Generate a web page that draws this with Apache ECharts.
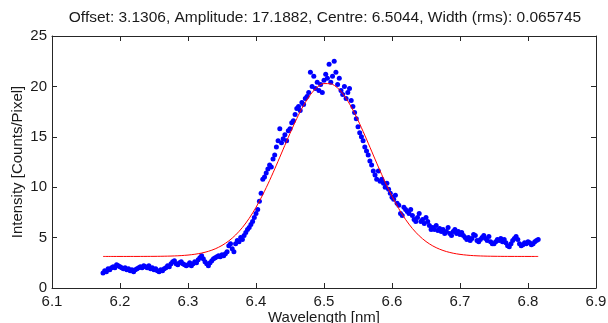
<!DOCTYPE html>
<html>
<head>
<meta charset="utf-8">
<script src="https://cdn.jsdelivr.net/npm/echarts@6/dist/echarts.min.js"></script>
<style>
html,body{margin:0;padding:0;background:#fff;}
#chart{width:608px;height:323px;}
</style>
</head>
<body>
<div id="chart"></div>
<script>
const titleText = 'Offset: 3.1306, Amplitude: 17.1882, Centre: 6.5044, Width (rms): 0.065745';
const xTicks = [6.1, 6.2, 6.3, 6.4, 6.5, 6.6, 6.7, 6.8, 6.9];
const yTicks = [0, 5, 10, 15, 20, 25];

const wavelengths = [
6.1750,6.1775,6.1800,6.1825,6.1850,6.1875,6.1900,6.1925,6.1950,6.1975,
6.2000,6.2025,6.2050,6.2075,6.2100,6.2125,6.2150,6.2175,6.2200,6.2225,
6.2250,6.2275,6.2300,6.2325,6.2350,6.2375,6.2400,6.2425,6.2450,6.2475,
6.2500,6.2525,6.2550,6.2575,6.2600,6.2625,6.2650,6.2675,6.2700,6.2725,
6.2750,6.2775,6.2800,6.2825,6.2850,6.2875,6.2900,6.2925,6.2950,6.2975,
6.3000,6.3025,6.3050,6.3075,6.3100,6.3125,6.3150,6.3175,6.3200,6.3225,
6.3250,6.3275,6.3300,6.3325,6.3350,6.3375,6.3400,6.3425,6.3450,6.3475,
6.3500,6.3525,6.3550,6.3575,6.3600,6.3625,6.3650,6.3675,6.3700,6.3725,
6.3750,6.3775,6.3800,6.3825,6.3850,6.3875,6.3900,6.3925,6.3950,6.3975,
6.4000,6.4025,6.4050,6.4075,6.4100,6.4125,6.4150,6.4175,6.4200,6.4225,
6.4250,6.4275,6.4300,6.4325,6.4350,6.4375,6.4400,6.4425,6.4450,6.4475,
6.4500,6.4525,6.4550,6.4575,6.4600,6.4625,6.4650,6.4675,6.4700,6.4725,
6.4750,6.4775,6.4800,6.4825,6.4850,6.4875,6.4900,6.4925,6.4950,6.4975,
6.5000,6.5025,6.5050,6.5075,6.5100,6.5125,6.5150,6.5175,6.5200,6.5225,
6.5250,6.5275,6.5300,6.5325,6.5350,6.5375,6.5400,6.5425,6.5450,6.5475,
6.5500,6.5525,6.5550,6.5575,6.5600,6.5625,6.5650,6.5675,6.5700,6.5725,
6.5750,6.5775,6.5800,6.5825,6.5850,6.5875,6.5900,6.5925,6.5950,6.5975,
6.6000,6.6025,6.6050,6.6075,6.6100,6.6125,6.6150,6.6175,6.6200,6.6225,
6.6250,6.6275,6.6300,6.6325,6.6350,6.6375,6.6400,6.6425,6.6450,6.6475,
6.6500,6.6525,6.6550,6.6575,6.6600,6.6625,6.6650,6.6675,6.6700,6.6725,
6.6750,6.6775,6.6800,6.6825,6.6850,6.6875,6.6900,6.6925,6.6950,6.6975,
6.7000,6.7025,6.7050,6.7075,6.7100,6.7125,6.7150,6.7175,6.7200,6.7225,
6.7250,6.7275,6.7300,6.7325,6.7350,6.7375,6.7400,6.7425,6.7450,6.7475,
6.7500,6.7525,6.7550,6.7575,6.7600,6.7625,6.7650,6.7675,6.7700,6.7725,
6.7750,6.7775,6.7800,6.7825,6.7850,6.7875,6.7900,6.7925,6.7950,6.7975,
6.8000,6.8025,6.8050,6.8075,6.8100,6.8125,6.8150
];
const intensity = [
1.5,1.7,1.6,1.9,1.8,2.0,2.1,2.0,2.3,2.2,
2.1,2.0,1.9,2.0,1.8,1.9,1.7,1.8,1.6,1.8,
1.9,2.0,2.1,2.0,2.2,2.1,2.0,2.2,1.9,2.0,
1.8,1.9,1.7,1.6,1.8,1.7,1.9,2.0,2.2,2.1,
2.4,2.6,2.7,2.4,2.3,2.5,2.6,2.4,2.3,2.2,
2.3,2.5,2.2,2.4,2.6,2.5,2.8,3.0,3.2,2.9,
2.6,2.4,2.2,2.5,2.7,2.9,3.0,3.1,3.2,3.1,
3.3,3.2,3.4,3.6,4.2,4.4,3.9,3.6,4.4,4.7,
4.6,5.0,4.8,5.2,5.5,5.8,6.0,6.3,6.6,7.0,
7.4,7.8,8.6,9.4,10.8,11.0,11.4,11.8,12.2,12.0,
12.8,13.2,14.0,14.6,15.8,14.4,14.8,15.2,14.6,15.6,
15.8,16.4,16.6,17.2,17.8,18.0,17.6,18.4,18.2,18.8,
19.0,19.4,21.4,20.0,21.0,19.8,20.4,19.6,20.2,19.4,
20.6,21.2,20.8,22.2,20.4,21.0,22.5,21.4,20.2,20.8,
19.6,19.2,20.0,18.8,19.4,19.8,18.6,18.0,17.4,16.8,
16.0,15.4,15.0,14.6,14.0,13.6,13.2,12.6,12.2,11.6,
11.2,10.8,11.6,10.6,10.8,10.4,10.0,10.4,9.8,9.4,
9.0,8.8,9.2,8.4,8.2,7.4,7.2,8.0,7.8,7.6,
7.4,7.8,7.2,6.8,6.6,7.0,7.4,6.6,6.8,6.4,
7.0,6.6,6.2,5.8,6.0,5.8,6.2,5.7,5.9,5.6,
5.8,5.4,5.6,6.0,5.4,5.2,5.6,5.8,5.4,5.6,
5.3,5.5,5.2,5.0,4.8,5.0,4.7,4.9,5.3,5.2,
4.7,4.6,4.8,5.0,5.2,4.9,4.7,5.1,4.6,4.4,
4.4,4.6,4.8,4.7,4.9,4.6,4.8,4.5,4.2,4.1,
4.4,4.7,4.9,5.1,4.8,4.4,4.2,4.3,4.5,4.4,
4.6,4.5,4.3,4.4,4.6,4.7,4.8
];

const fitX = [6.175,6.19,6.20,6.21,6.22,6.23,6.24,6.25,6.26,6.27,6.28,6.29,6.30,6.31,6.32,6.33,6.34,6.35,6.36,6.37,6.38,6.39,6.40,6.41,6.42,6.43,6.44,6.45,6.46,6.47,6.48,6.49,6.50,6.51,6.52,6.53,6.54,6.55,6.56,6.57,6.58,6.59,6.60,6.61,6.62,6.63,6.64,6.65,6.66,6.67,6.68,6.69,6.70,6.71,6.72,6.73,6.74,6.75,6.76,6.77,6.78,6.79,6.80,6.81,6.815];
const fitY = [3.131,3.131,3.131,3.131,3.132,3.133,3.136,3.140,3.148,3.160,3.181,3.215,3.267,3.348,3.467,3.640,3.884,4.221,4.671,5.257,6.000,6.914,8.002,9.262,10.671,12.191,13.768,15.336,16.814,18.121,19.174,19.912,20.281,20.257,19.841,19.064,17.974,16.644,15.152,13.579,12.005,10.494,9.102,7.863,6.793,5.902,5.180,4.610,4.174,3.851,3.616,3.450,3.336,3.260,3.210,3.178,3.159,3.147,3.140,3.135,3.133,3.132,3.131,3.131,3.131];

const points = wavelengths.map((x, i) => [x, intensity[i]]);
const fitLine = fitX.map((x, i) => [x, fitY[i]]);

const FONT = 'Liberation Sans, Arial, sans-serif';
const AX = '#262626';
const TXT = '#1a1a1a';
const FS = 15;
const xMin = xTicks[0], xMax = xTicks[xTicks.length - 1];
const yMin = yTicks[0], yMax = yTicks[yTicks.length - 1];

const chart = echarts.init(document.getElementById('chart'), null, {renderer: 'canvas'});
const commonX = {
  type: 'value', min: xMin, max: xMax, interval: 0.1,
  axisLine: {show: true, onZero: false, lineStyle: {color: AX, width: 1}},
  axisTick: {show: true, inside: true, length: 5, lineStyle: {color: AX}},
  splitLine: {show: false}
};
const commonY = {
  type: 'value', min: yMin, max: yMax, interval: 5,
  axisLine: {show: true, onZero: false, lineStyle: {color: AX, width: 1}},
  axisTick: {show: true, inside: true, length: 5, lineStyle: {color: AX}},
  splitLine: {show: false}
};
chart.setOption({
  animation: false,
  backgroundColor: '#fff',
  title: {
    text: titleText, left: 320, top: 5, textAlign: 'center',
    textStyle: {fontFamily: FONT, fontSize: 15.5, fontWeight: 'normal', color: TXT}
  },
  grid: {left: 52, right: 12, top: 36, bottom: 35, containLabel: false, outerBoundsMode: 'none'},
  xAxis: [
    Object.assign({}, commonX, {
      position: 'bottom',
      name: 'Wavelength [nm]', nameLocation: 'middle', nameGap: 22, nameMoveOverlap: false,
      nameTextStyle: {fontFamily: FONT, fontSize: FS, color: TXT},
      axisLabel: {show: true, margin: 6, fontFamily: FONT, fontSize: FS, color: TXT,
        formatter: v => v.toFixed(1)}
    }),
    Object.assign({}, commonX, {position: 'top', axisLabel: {show: false}})
  ],
  yAxis: [
    Object.assign({}, commonY, {
      position: 'left',
      name: 'Intensity [Counts/Pixel]', nameLocation: 'middle', nameGap: 27, nameMoveOverlap: false,
      nameTextStyle: {fontFamily: FONT, fontSize: FS, color: TXT},
      axisLabel: {show: true, margin: 5, fontFamily: FONT, fontSize: FS, color: TXT}
    }),
    Object.assign({}, commonY, {position: 'right', axisLabel: {show: false}})
  ],
  series: [
    {
      type: 'scatter', data: points, xAxisIndex: 0, yAxisIndex: 0,
      symbol: 'circle', symbolSize: 5,
      itemStyle: {color: '#0000ff', opacity: 1}, z: 2
    },
    {
      type: 'line', data: fitLine, xAxisIndex: 0, yAxisIndex: 0,
      showSymbol: false, smooth: 0.3,
      lineStyle: {color: '#ff0000', width: 1}, z: 3
    }
  ]
});
</script>
</body>
</html>
